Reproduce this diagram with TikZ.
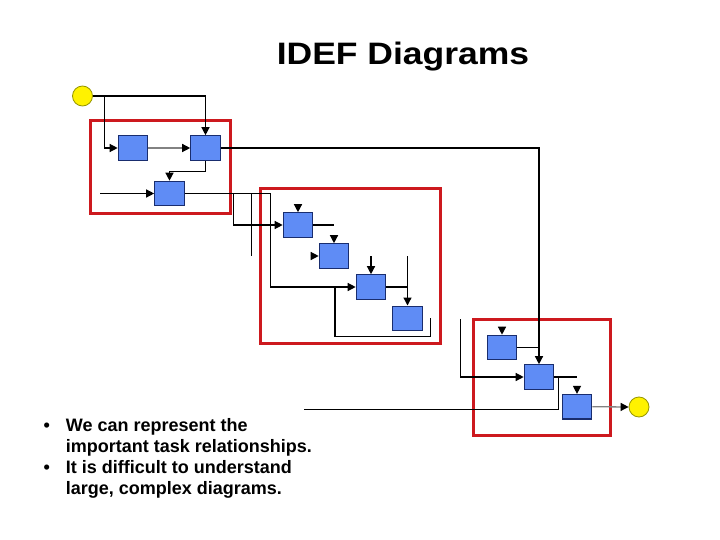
\documentclass[tikz,border=0pt]{standalone}
\usepackage{fontspec}
\setmainfont{Liberation Sans}
\usetikzlibrary{arrows.meta,calc}
\definecolor{boxfill}{RGB}{95,140,245}
\definecolor{boxedge}{RGB}{25,45,110}
\definecolor{framered}{RGB}{205,25,30}
\definecolor{dotedge}{RGB}{150,150,0}
\definecolor{lightline}{RGB}{130,130,130}
\begin{document}
\begin{tikzpicture}[x=1pt,y=-1pt,
  box/.style={draw=boxedge,fill=boxfill,line width=1.1pt,minimum width=29.5pt,minimum height=24.5pt,inner sep=0pt},
  dot/.style={circle,draw=dotedge,fill=yellow,line width=0.8pt,minimum size=20pt,inner sep=0pt},
  ln/.style={line width=1.3pt,draw=black},
  arr/.style={ln,-{Triangle[length=8pt,width=8pt]}},
  garr/.style={line width=1.3pt,draw=lightline,-{Triangle[length=8pt,width=8pt,color=black]}},
  frame/.style={draw=framered,line width=3pt},
  txt/.style={anchor=base west,inner sep=0pt,font=\fontsize{18}{21}\selectfont\bfseries},
  bul/.style={anchor=base,inner sep=0pt,font=\fontsize{18}{21}\selectfont\bfseries}]
\useasboundingbox (0,0) rectangle (720,540);
\fill[white] (0,0) rectangle (720,540);

% title
\node[anchor=base,inner sep=0pt] (title) at (403,65) {\scalebox{1.145}[1]{\fontsize{31}{36}\selectfont\bfseries IDEF Diagrams}};

% red frames
\draw[frame] (90,121) rectangle (230,213.3);
\draw[frame] (260,188.3) rectangle (440,343.3);
\draw[frame] (473.3,319) rectangle (610,435);

% circles
\node[dot] (c1) at (82.5,96) {};
\node[dot] (c2) at (639,407) {};

% boxes
\node[box] (b1) at (133,148) {};
\node[box] (b2) at (205.5,148) {};
\node[box] (b3) at (169.5,193.5) {};
\node[box] (b4) at (298,225) {};
\node[box] (b5) at (334,256) {};
\node[box] (b6) at (371,287) {};
\node[box] (b7) at (407.5,318.3) {};
\node[box] (b8) at (502,347.5) {};
\node[box] (b9) at (539,377) {};
\node[box] (b10) at (577,406.7) {};

% connectors
\draw[arr] (c1.east) -| (b2.north);
\coordinate (j1) at (104.3,96);
\draw[arr] (j1) |- (b1.west);
\draw[garr] (b1.east) -- (b2.west);
\draw[arr] (b2.east) -| (b9.north);
\coordinate (j2) at (205.5,171.7);
\draw[arr] (b2.south) -- (j2) -| (b3.north);
\coordinate (in3) at (100,193.5);
\draw[arr] (in3) -- (b3.west);
\coordinate (j3) at (270.7,193.5);
\draw[ln] (b3.east) -- (j3);
\coordinate (j3a) at (233.3,193.5);
\draw[arr] (j3a) |- (b4.west);
\coordinate (j3b) at (251.7,193.5);
\coordinate (e3b) at (251.7,256);
\draw[ln] (j3b) -- (e3b);
\draw[arr] (j3) |- (b6.west);
\draw[arr] ($(b4.north)+(0,-8)$) -- (b4.north);
\draw[arr] ($(b5.north)+(0,-8)$) -- (b5.north);
\draw[arr] ($(b5.west)+(-8,0)$) -- (b5.west);
\coordinate (e4) at (334,225);
\draw[ln] (b4.east) -- (e4);
\coordinate (s6) at (371,256);
\draw[arr] (s6) -- (b6.north);
\coordinate (j6) at (407.5,287);
\draw[ln] (b6.east) -- (j6);
\coordinate (s7) at (407.5,256);
\draw[arr] (s7) -- (b7.north);
\coordinate (lp0) at (335,287);
\coordinate (lp1) at (430.7,336.7);
\coordinate (lp2) at (430.7,318.3);
\draw[ln] (lp0) |- (lp1) -- (lp2);
\coordinate (s9) at (460.7,319);
\draw[arr] (s9) |- (b9.west);
\draw[arr] ($(b8.north)+(0,-8)$) -- (b8.north);
\draw[ln] (b8.east) -- (b8.east -| b9.north);
\coordinate (e9) at (576.7,377);
\draw[ln] (b9.east) -- (e9);
\coordinate (j9) at (558.3,377);
\coordinate (f9) at (304.3,409.3);
\draw[ln] (j9) |- (f9);
\draw[arr] ($(b10.north)+(0,-8)$) -- (b10.north);
\draw[garr] (b10.east) -- (c2.west);

% bullet text
\node[bul] (bu1) at (46.7,431) {•};
\node[txt] (tx1) at (65.7,431) {We can represent the};
\node[txt] (tx2) at (65.7,452.1) {important task relationships.};
\node[bul] (bu2) at (46.7,473.2) {•};
\node[txt] (tx3) at (65.7,473.2) {It is difficult to understand};
\node[txt] (tx4) at (65.7,494.3) {large, complex diagrams.};
\end{tikzpicture}
\end{document}
